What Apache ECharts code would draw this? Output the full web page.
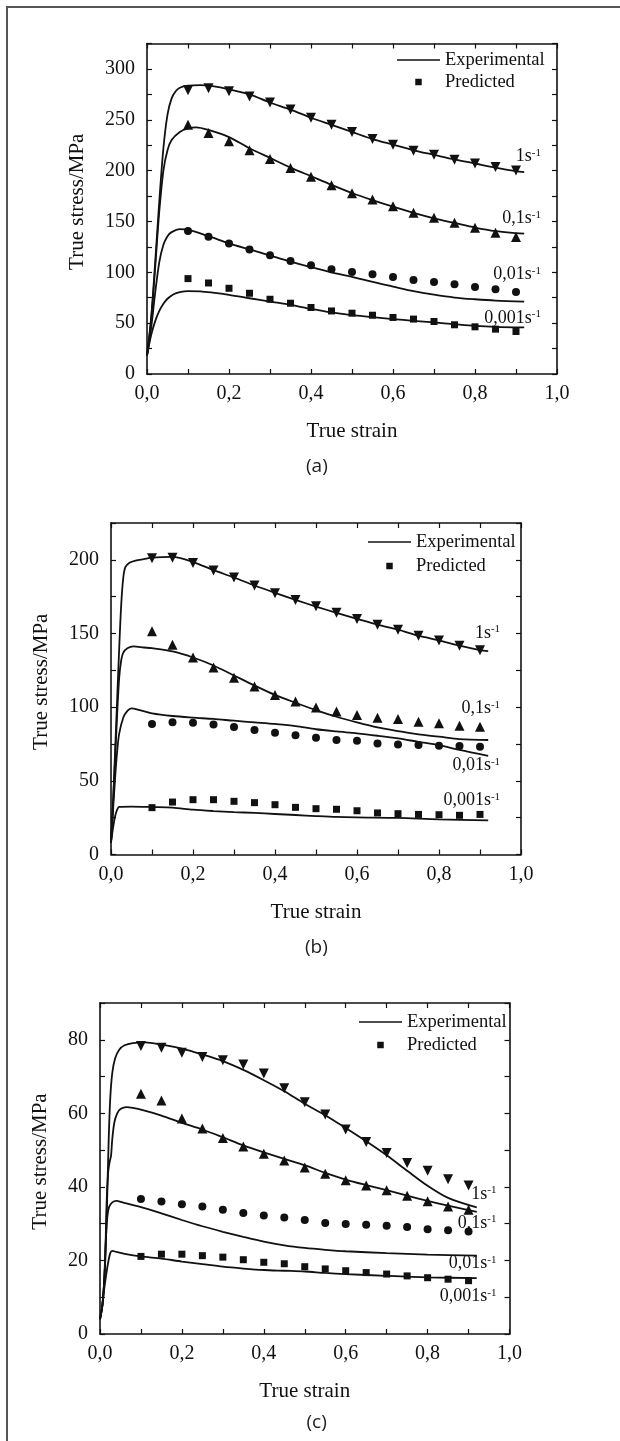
<!DOCTYPE html>
<html>
<head>
<meta charset="utf-8">
<title>True stress - true strain</title>
<script src="https://cdn.jsdelivr.net/npm/echarts@6/dist/echarts.min.js"></script>
<style>
  html, body { margin: 0; padding: 0; background: #fff; }
  #chart { width: 620px; height: 1441px; }
</style>
</head>
<body>
<div id="chart"></div>
<script>
// strains at which the model (predicted) points are plotted
var predStrain = [0.1, 0.15, 0.2, 0.25, 0.3, 0.35, 0.4, 0.45, 0.5, 0.55, 0.6, 0.65, 0.7, 0.75, 0.8, 0.85, 0.9];
var rateNames = ['1s', '0,1s', '0,01s', '0,001s'];

// (a) experimental curves [strain, stress]
var expA1 = [[0,18],[0.01,55],[0.02,110],[0.03,170],[0.04,222],[0.05,255],[0.06,271],[0.07,278],[0.08,281.5],[0.1,283.5],[0.13,284],[0.16,283],[0.2,280],[0.25,275],[0.3,267],[0.35,260],[0.4,252],[0.45,245],[0.5,238],[0.55,231],[0.6,225.5],[0.65,220],[0.7,215.5],[0.75,211],[0.8,207],[0.85,203],[0.9,199.5],[0.92,198.5]];
var expA2 = [[0,18],[0.01,52],[0.02,105],[0.03,160],[0.04,200],[0.05,220],[0.06,230],[0.08,238],[0.1,241.5],[0.12,242.5],[0.15,240],[0.2,233],[0.25,222],[0.3,212.5],[0.35,203],[0.4,194.5],[0.45,186],[0.5,178],[0.55,171],[0.6,164.5],[0.65,158.5],[0.7,153],[0.75,148.5],[0.8,144],[0.85,140.5],[0.9,138.5],[0.92,138]];
var expA3 = [[0,18],[0.01,45],[0.02,80],[0.03,110],[0.04,127],[0.05,135.5],[0.06,139.5],[0.08,142.5],[0.1,142],[0.15,135.5],[0.2,128.5],[0.25,122.5],[0.3,116.5],[0.35,110.5],[0.4,105],[0.45,100],[0.5,95.5],[0.55,90.5],[0.6,86],[0.65,81.5],[0.7,78],[0.75,75.2],[0.8,73.5],[0.85,72.2],[0.92,71.2]];
var expA4 = [[0,18],[0.01,38],[0.02,52],[0.03,62],[0.04,69],[0.05,74],[0.065,78.5],[0.08,80.5],[0.1,81.5],[0.13,81.3],[0.16,80],[0.2,77.8],[0.25,74.5],[0.3,71.2],[0.35,68],[0.4,64],[0.45,60.5],[0.5,57.8],[0.55,56],[0.6,54],[0.65,52.3],[0.7,50.7],[0.75,49],[0.8,47.4],[0.85,46.4],[0.92,45.8]];
// (a) predicted stress at predStrain
var predA1 = [279, 281, 278, 273, 267, 260, 252, 245, 238, 231, 225.5, 219.6, 215.7, 210.8, 206.9, 203.6, 200];
var predA2 = [245, 237, 228.8, 220, 211.4, 202.6, 194, 185.6, 177.8, 171.6, 165, 158.5, 153.6, 148.7, 143.8, 139, 134.6];
var predA3 = [140.5, 135, 128.4, 122.5, 116.7, 111, 106.9, 103, 100.3, 98, 95.4, 92.5, 90.5, 88.2, 85.6, 83.3, 80.7];
var predA4 = [93.8, 89.5, 84.3, 79.4, 73.5, 69.6, 65.4, 62, 59.8, 57.8, 55.6, 54, 51.6, 48.4, 46.4, 44.1, 41.8];

// (b)
var expB1 = [[0,8],[0.005,35],[0.01,70],[0.015,105],[0.02,140],[0.025,170],[0.03,188],[0.035,195],[0.045,198],[0.06,199.5],[0.08,200.5],[0.1,201.5],[0.15,202],[0.2,198.5],[0.25,193],[0.3,188],[0.35,182.6],[0.4,177.6],[0.45,172.8],[0.5,168.3],[0.55,164],[0.6,160],[0.65,156],[0.7,152.6],[0.75,148.5],[0.8,145.3],[0.85,141.7],[0.9,138.7],[0.92,138]];
var expB2 = [[0,8],[0.005,35],[0.01,65],[0.015,95],[0.02,120],[0.025,132],[0.03,137],[0.04,140],[0.055,141.2],[0.08,140.5],[0.1,140],[0.15,137.8],[0.2,133.7],[0.25,128.3],[0.3,121.5],[0.35,114.7],[0.4,108.3],[0.45,103],[0.5,98],[0.55,93.5],[0.6,89.7],[0.65,86.3],[0.7,83.8],[0.75,81.5],[0.8,80],[0.85,78.3],[0.92,77.7]];
var expB3 = [[0,8],[0.005,30],[0.01,52],[0.015,70],[0.02,82],[0.03,93],[0.04,97.5],[0.05,99.2],[0.07,98],[0.1,95.8],[0.15,94],[0.2,92.9],[0.25,92],[0.3,90.8],[0.35,89.7],[0.4,88.6],[0.45,87.2],[0.5,85],[0.55,83.5],[0.6,82.2],[0.65,80.6],[0.7,78.8],[0.75,76.5],[0.8,74.3],[0.85,71],[0.92,67]];
var expB4 = [[0,8],[0.005,18],[0.01,26],[0.015,30.5],[0.02,32.3],[0.05,32.5],[0.1,32.2],[0.15,31.8],[0.2,30.4],[0.25,29.5],[0.3,28.8],[0.35,28.2],[0.4,27.5],[0.45,26.8],[0.5,26.1],[0.55,25.5],[0.6,25.2],[0.7,24.8],[0.8,23.8],[0.92,23.2]];
var predB1 = [201, 201.4, 197.8, 192.8, 188, 182.6, 177.3, 172.8, 168.5, 164, 159.9, 156, 152.6, 148.5, 145.3, 141.7, 138.7];
var predB2 = [151.5, 142.4, 133.7, 127, 120, 114, 108.3, 103.8, 99.7, 97, 94.7, 92.9, 92, 90.1, 89, 87.4, 86.7];
var predB3 = [88.6, 89.7, 89.5, 88.3, 86.5, 84.5, 82.7, 81, 79.2, 77.7, 77.2, 75.4, 74.7, 74.3, 73.8, 73.6, 73.1];
var predB4 = [31.8, 35.6, 37.2, 37.2, 36.1, 35.2, 33.8, 32, 31.1, 30.7, 29.7, 28.2, 27.7, 27.2, 27, 26.6, 27.2];

// (c)
var expC1 = [[0,4],[0.006,8],[0.012,18],[0.017,35],[0.021,52],[0.025,64],[0.03,71],[0.037,75],[0.047,77.3],[0.06,78.5],[0.08,79.1],[0.11,79.3],[0.15,78.7],[0.2,77.6],[0.25,76],[0.3,74.2],[0.35,71.8],[0.4,69],[0.45,66],[0.5,62.6],[0.55,59.5],[0.6,56],[0.65,52.4],[0.7,48.6],[0.75,44.4],[0.8,40.3],[0.85,37],[0.92,34.4]];
var expC2 = [[0,4],[0.006,8],[0.012,18],[0.016,35],[0.02,44],[0.024,47],[0.027,48.5],[0.03,53],[0.035,57.5],[0.042,60],[0.05,61.2],[0.065,61.7],[0.08,61.5],[0.1,61],[0.15,59.4],[0.2,57.4],[0.25,55.6],[0.3,53.5],[0.35,51.3],[0.4,49.4],[0.45,47.6],[0.5,45.9],[0.55,43.8],[0.6,42],[0.65,40.5],[0.7,39.1],[0.75,37.6],[0.8,36.2],[0.85,34.9],[0.92,33.2]];
var expC3 = [[0,4],[0.006,8],[0.01,14],[0.014,25],[0.018,32],[0.022,34.5],[0.03,35.8],[0.04,36.2],[0.055,35.8],[0.1,34.5],[0.15,32.8],[0.2,31],[0.25,29.3],[0.3,27.8],[0.35,26.4],[0.4,25.1],[0.45,24.1],[0.5,23.4],[0.55,22.9],[0.6,22.5],[0.7,22],[0.8,21.6],[0.92,21.3]];
var expC4 = [[0,4],[0.006,8],[0.01,12],[0.015,16],[0.02,19.5],[0.025,22],[0.03,22.6],[0.04,22.3],[0.06,21.8],[0.1,21.1],[0.15,20.5],[0.2,19.7],[0.25,19],[0.3,18.3],[0.35,17.8],[0.4,17.4],[0.45,17.2],[0.5,17],[0.55,16.6],[0.6,16.3],[0.7,15.8],[0.8,15.4],[0.92,15.2]];
var predC1 = [78.3, 77.8, 76.5, 75.3, 74.4, 73.3, 70.8, 66.8, 63, 59.7, 55.6, 52.2, 49.2, 46.5, 44.4, 42.1, 40.4];
var predC2 = [65.3, 63.5, 58.6, 55.9, 53.3, 51, 49, 47.2, 45.3, 43.6, 41.8, 40.4, 39.1, 37.6, 36.1, 34.7, 33.8];
var predC3 = [36.7, 36, 35.3, 34.7, 33.8, 32.9, 32.2, 31.7, 31, 30.2, 29.9, 29.7, 29.4, 29.1, 28.5, 28.2, 27.9];
var predC4 = [21.1, 21.7, 21.7, 21.3, 20.9, 20.2, 19.5, 19.1, 18.3, 17.7, 17.2, 16.7, 16.3, 15.8, 15.3, 14.9, 14.5];

var ink = '#111';
var serif = 'Liberation Serif';
// one marker shape per strain rate: 1, 0.1, 0.01, 0.001 s^-1
var shapes = ['triangle', 'triangle', 'circle', 'rect'];
var rotations = [180, 0, 0, 0];
var sizes = [10, 10, 8, 7];

var panels = [
  { grid: { left: 147, top: 43.5, width: 410, height: 330.5 }, yMax: 325, yStep: 25, yLabelStep: 50, yNameGap: 59,
    legend: { left: 397, top: 50, itemGap: 2 }, tag: '(a)', tagLeft: 306, tagTop: 457,
    exp: [expA1, expA2, expA3, expA4], pred: [predA1, predA2, predA3, predA4],
    labelX: 0.961, labelY: [214, 153, 98, 55] },
  { grid: { left: 111, top: 523, width: 410, height: 331.5 }, yMax: 225, yStep: 25, yLabelStep: 50, yNameGap: 59.5,
    legend: { left: 368, top: 532, itemGap: 4 }, tag: '(b)', tagLeft: 305, tagTop: 938.5,
    exp: [expB1, expB2, expB3, expB4], pred: [predB1, predB2, predB3, predB4],
    labelX: 0.949, labelY: [150.3, 99.2, 60.6, 36.8] },
  { grid: { left: 100, top: 1003, width: 409.5, height: 331 }, yMax: 90, yStep: 10, yLabelStep: 20, yNameGap: 49,
    legend: { left: 359, top: 1012, itemGap: 3 }, tag: '(c)', tagLeft: 306.5, tagTop: 1413.5,
    exp: [expC1, expC2, expC3, expC4], pred: [predC1, predC2, predC3, predC4],
    labelX: 0.968, labelY: [38.1, 30.2, 19.2, 10.2] }
];

var chart = echarts.init(document.getElementById('chart'), null, { renderer: 'canvas' });

var frame = {
  type: 'rect', id: 'frame', silent: true,
  shape: { x: 7, y: 7, width: 700, height: 1500 },
  style: { fill: 'none', stroke: '#555', lineWidth: 2 }
};

var option = {
  backgroundColor: '#fff',
  animation: false,
  textStyle: { fontFamily: serif },
  graphic: [frame],
  title: [], legend: [], grid: [], xAxis: [], yAxis: [], series: []
};

function axisCommon(gridIndex) {
  return {
    type: 'value', gridIndex: gridIndex,
    axisLine: { show: true, onZero: false, lineStyle: { color: ink, width: 1.6 } },
    axisTick: { show: true, inside: true, length: 5, lineStyle: { color: ink, width: 1.2 } },
    splitLine: { show: false },
    nameMoveOverlap: false
  };
}

panels.forEach(function (p, i) {
  option.grid.push(Object.assign({ outerBoundsMode: 'none', containLabel: false }, p.grid));

  // bottom + top x axes
  var xb = axisCommon(i);
  Object.assign(xb, {
    position: 'bottom', min: 0, max: 1, interval: 0.1,
    name: 'True strain', nameLocation: 'middle', nameGap: 47,
    nameTextStyle: { fontFamily: serif, fontSize: 21, color: ink },
    axisLabel: {
      margin: 10, fontFamily: serif, fontSize: 20, color: ink,
      formatter: function (v) {
        return Math.round(v * 10) % 2 === 0 ? v.toFixed(1).replace('.', ',') : '';
      }
    }
  });
  var xt = axisCommon(i);
  Object.assign(xt, { position: 'top', min: 0, max: 1, interval: 0.1, axisLabel: { show: false } });
  option.xAxis.push(xb, xt);

  // left + right y axes
  var yl = axisCommon(i);
  Object.assign(yl, {
    position: 'left', min: 0, max: p.yMax, interval: p.yStep,
    name: 'True stress/MPa', nameLocation: 'middle', nameGap: p.yNameGap,
    nameTextStyle: { fontFamily: serif, fontSize: 21, color: ink, padding: [0, 0, 0, 14] },
    axisLabel: {
      margin: 12, fontFamily: serif, fontSize: 20, color: ink,
      formatter: function (v) {
        return Math.round(v) % p.yLabelStep === 0 ? String(Math.round(v)) : '';
      }
    }
  });
  var yr = axisCommon(i);
  Object.assign(yr, { position: 'right', min: 0, max: p.yMax, interval: p.yStep, axisLabel: { show: false } });
  option.yAxis.push(yl, yr);

  p.exp.forEach(function (curve) {
    option.series.push({
      type: 'line', name: 'Experimental', xAxisIndex: 2 * i, yAxisIndex: 2 * i,
      data: curve, symbol: 'none', smooth: 0.3, silent: true, z: 3,
      lineStyle: { color: ink, width: 1.8 }, itemStyle: { color: ink }
    });
  });

  p.pred.forEach(function (vals, k) {
    option.series.push({
      type: 'scatter', name: 'Predicted', xAxisIndex: 2 * i, yAxisIndex: 2 * i,
      data: predStrain.map(function (x, j) { return [x, vals[j]]; }),
      symbol: shapes[k], symbolRotate: rotations[k], symbolSize: sizes[k],
      silent: true, z: 4,
      itemStyle: { color: ink, opacity: 1 }
    });
  });

  option.legend.push({
    orient: 'vertical', left: p.legend.left, top: p.legend.top, padding: 0,
    itemGap: p.legend.itemGap, itemWidth: 43, itemHeight: 6.5,
    selectedMode: false, symbolKeepAspect: true,
    itemStyle: { borderWidth: 0 },
    textStyle: { fontFamily: serif, fontSize: 18.5, lineHeight: 20, color: ink },
    data: [
      { name: 'Experimental', icon: 'path://M0,0H44V1.6H0Z' },
      { name: 'Predicted', icon: 'path://M0,0H10V10H0Z' }
    ]
  });

  option.title.push({
    text: p.tag, left: p.tagLeft, top: p.tagTop, padding: 0,
    textStyle: { fontFamily: 'Open Sans', fontSize: 19, fontWeight: 'normal', color: '#222' }
  });
});

chart.setOption(option);

// strain-rate tags at the right end of the curves, placed through the axes' scales
var tags = [frame];
panels.forEach(function (p, i) {
  rateNames.forEach(function (r, k) {
    var pt = chart.convertToPixel({ xAxisIndex: 2 * i, yAxisIndex: 2 * i }, [p.labelX, p.labelY[k]]);
    tags.push({
      type: 'text', silent: true, z: 10, x: pt[0], y: pt[1],
      style: {
        text: '{m|' + r + '}{s|-1}', align: 'right', verticalAlign: 'middle', fill: ink,
        rich: {
          m: { fontFamily: serif, fontSize: 18, lineHeight: 18, fill: ink, color: ink },
          s: { fontFamily: serif, fontSize: 11, lineHeight: 11, verticalAlign: 'top', fill: ink, color: ink }
        }
      }
    });
  });
});
chart.setOption({ graphic: tags });
</script>
</body>
</html>
